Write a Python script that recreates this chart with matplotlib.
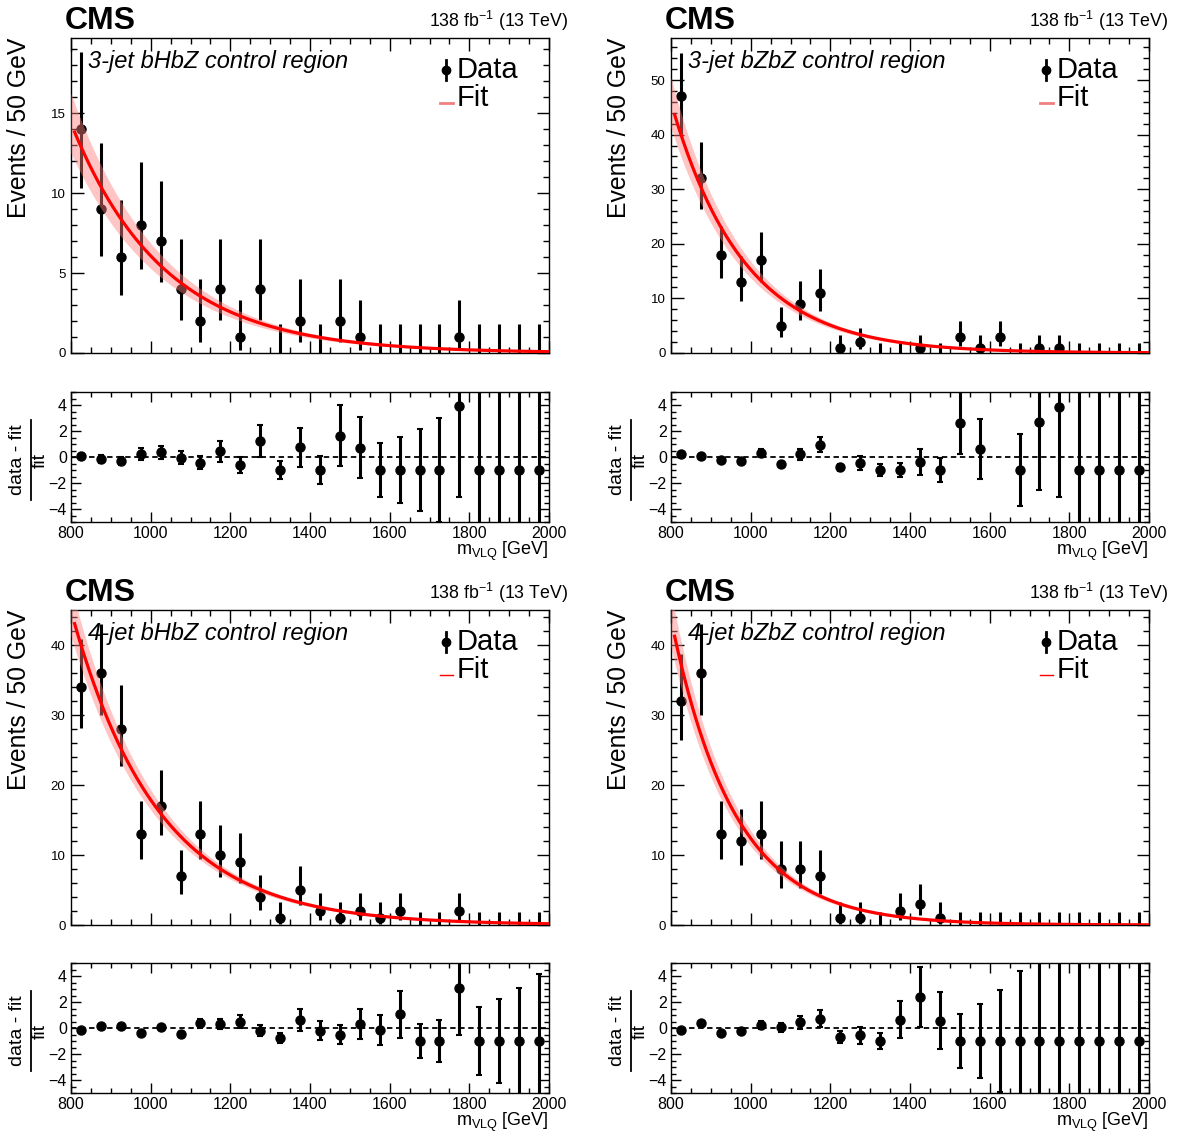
import numpy as np
import matplotlib
matplotlib.use("Agg")
import matplotlib.pyplot as plt
from matplotlib.ticker import MultipleLocator
from matplotlib.lines import Line2D

plt.rcParams.update({
    "font.family": ["Liberation Sans", "DejaVu Sans"],
    "mathtext.fontset": "custom",
    "mathtext.rm": "Liberation Sans",
    "mathtext.it": "Liberation Sans:italic",
    "mathtext.bf": "Liberation Sans:bold",
    "axes.linewidth": 1.0,
})

# ---------------- data ----------------
bin_edges = np.arange(800, 2001, 50)
bin_centers = bin_edges[:-1] + 25

labels = ["3-jet bHbZ control region", "3-jet bZbZ control region",
          "4-jet bHbZ control region", "4-jet bZbZ control region"]

counts_3j_bHbZ = [14, 9, 6, 8, 7, 4, 2, 4, 1, 4, 0, 2, 0, 2, 1, 0, 0, 0, 0, 1, 0, 0, 0, 0]
counts_3j_bZbZ = [47, 32, 18, 13, 17, 5, 9, 11, 1, 2, 0, 0, 1, 0, 3, 1, 3, 0, 1, 1, 0, 0, 0, 0]
counts_4j_bHbZ = [34, 36, 28, 13, 17, 7, 13, 10, 9, 4, 1, 5, 2, 1, 2, 1, 2, 0, 0, 2, 0, 0, 0, 0]
counts_4j_bZbZ = [32, 36, 13, 12, 13, 8, 8, 7, 1, 1, 0, 2, 3, 1, 0, 0, 0, 0, 0, 0, 0, 0, 0, 0]

ratio_3j_bHbZ = [0.1, -0.15, -0.3, 0.25, 0.35, -0.05, -0.45, 0.45, -0.6, 1.25, -1, 0.75,
                 -1, 1.65, 0.7, -1, -1, -1, -1, 3.95, -1, -1, -1, -1]
rerr_3j_bHbZ = [0.1, 0.3, 0.3, 0.45, 0.5, 0.5, 0.5, 0.8, 0.6, 1.25, 0.7, 1.5,
                1.05, 2.35, 2.35, 2.05, 2.55, 3.15, 4.0, 7.0, 8, 8, 8, 8]
ratio_3j_bZbZ = [0.2, 0.05, -0.25, -0.3, 0.3, -0.55, 0.2, 0.95, -0.8, -0.45, -1, -1,
                 -0.35, -1, 2.65, 0.6, np.nan, -1, 2.7, 3.85, -1, -1, -1, -1]
rerr_3j_bZbZ = [0.15, 0.1, 0.1, 0.1, 0.3, 0.1, 0.4, 0.6, 0.3, 0.55, 0.45, 0.55,
                1.0, 0.95, 2.45, 2.3, np.nan, 2.8, 5.25, 6.9, 8, 8, 8, 8]
ratio_4j_bHbZ = [-0.15, 0.15, 0.15, -0.35, 0.1, -0.45, 0.35, 0.3, 0.5, -0.2, -0.75, 0.6,
                 -0.2, -0.5, 0.3, -0.15, 1.05, -1, -1, 3.1, -1, -1, -1, -1]
rerr_4j_bHbZ = [0.15, 0.15, 0.12, 0.12, 0.15, 0.12, 0.35, 0.4, 0.5, 0.45, 0.38, 0.85,
                0.75, 0.75, 1.15, 1.18, 1.8, 1.3, 1.65, 3.6, 2.6, 3.25, 4.1, 5.15]
ratio_4j_bZbZ = [-0.15, 0.35, -0.35, -0.2, 0.25, 0.05, 0.45, 0.7, -0.7, -0.55, -1, 0.65,
                 2.4, 0.55, -1, -1, -1, -1, -1, -1, -1, -1, -1, -1]
rerr_4j_bZbZ = [0.15, 0.15, 0.12, 0.12, 0.3, 0.35, 0.5, 0.65, 0.45, 0.65, 0.62, 1.45,
                2.3, 2.2, 2.1, 2.85, 3.9, 5.35, 8, 8, 8, 8, 8, 8]

# exponential fit parameters: value at 825 GeV, slope (1/GeV), relative band
fit_norm = [12.9, 40.0, 40.0, 37.3]
fit_slope = [0.0043, 0.0055, 0.0046, 0.0063]
fit_rel_unc = [0.13, 0.10, 0.08, 0.09]

ymax_main = [19.7, 57.7, 45.0, 45.0]
ymajor = [5, 10, 10, 10]
yminor = [1, 2, 2, 2]

counts = [counts_3j_bHbZ, counts_3j_bZbZ, counts_4j_bHbZ, counts_4j_bZbZ]
ratios = [ratio_3j_bHbZ, ratio_3j_bZbZ, ratio_4j_bHbZ, ratio_4j_bZbZ]
rerrs = [rerr_3j_bHbZ, rerr_3j_bZbZ, rerr_4j_bHbZ, rerr_4j_bZbZ]


def garwood(n):
    n = np.asarray(n, float)
    nn = np.maximum(n, 1)
    lo = np.where(n > 0, n * (1 - 1 / (9 * nn) - 1 / (3 * np.sqrt(nn))) ** 3, 0.0)
    m = n + 1
    hi = m * (1 - 1 / (9 * m) + 1 / (3 * np.sqrt(m))) ** 3
    return n - lo, hi - n


W, H = 1184, 1136
fig = plt.figure(figsize=(W / 100, H / 100), dpi=100)

col_x = [71, 671]
ax_w = 478
main_top = [38, 610]
main_h = 315
rat_top = [392, 963]
rat_h = 130


def fx(px):
    return px / W


def fy(py):
    return 1 - py / H


band_col = "#ff7f7f"

for i in range(4):
    row, col = divmod(i, 2)
    x0 = col_x[col]
    axm = fig.add_axes([fx(x0), fy(main_top[row] + main_h), ax_w / W, main_h / H])
    axr = fig.add_axes([fx(x0), fy(rat_top[row] + rat_h), ax_w / W, rat_h / H])

    n = np.array(counts[i], float)
    elo, ehi = garwood(n)
    axm.errorbar(bin_centers, n, yerr=[elo, ehi], fmt="none", ecolor="black",
                 elinewidth=2.2, capsize=0, zorder=2)
    nz = n > 0
    axm.plot(bin_centers[nz], n[nz], "o", color="black", ms=6.5, zorder=2)

    xs = np.linspace(800, 2000, 400)
    f = fit_norm[i] * np.exp(-fit_slope[i] * (xs - 825))
    axm.fill_between(xs, f * (1 - fit_rel_unc[i]), f * (1 + fit_rel_unc[i]),
                     color=band_col, alpha=0.45, lw=0, zorder=3)
    xl = xs[xs >= 808]
    axm.plot(xl, fit_norm[i] * np.exp(-fit_slope[i] * (xl - 825)), color="red", lw=2.3, zorder=4)

    axm.set_xlim(800, 2000)
    axm.set_ylim(0, ymax_main[i])
    axm.xaxis.set_major_locator(MultipleLocator(200))
    axm.xaxis.set_minor_locator(MultipleLocator(50))
    axm.yaxis.set_major_locator(MultipleLocator(ymajor[i]))
    axm.yaxis.set_minor_locator(MultipleLocator(yminor[i]))
    axm.tick_params(which="both", direction="in", top=True, right=True)
    axm.tick_params(which="major", length=9, width=1)
    axm.tick_params(which="minor", length=4.5, width=1)
    axm.tick_params(axis="x", labelbottom=False)
    axm.tick_params(axis="y", labelsize=9.5, pad=4)
    axm.set_ylabel("Events / 50 GeV", fontsize=17.8, loc="top")
    axm.yaxis.set_label_coords(-0.084, 1.0)

    axm.text(0.036, 0.924, labels[i], transform=axm.transAxes, fontsize=17,
             style="italic", va="center", ha="left", zorder=6)

    # legend (manual)
    axm.plot([0.785, 0.785], [0.866, 0.930], transform=axm.transAxes, color="black", lw=2, clip_on=False, zorder=6)
    axm.plot([0.785], [0.898], "o", transform=axm.transAxes, color="black", ms=6, clip_on=False, zorder=6)
    axm.text(0.806, 0.898, "Data", transform=axm.transAxes, fontsize=21, va="center", ha="left", zorder=6)
    if row == 0:
        axm.plot([0.772, 0.799], [0.795, 0.795], transform=axm.transAxes, color="#f08080", lw=2, zorder=6)
    else:
        axm.plot([0.772, 0.799], [0.795, 0.795], transform=axm.transAxes, color="red", lw=1, zorder=6)
    axm.text(0.806, 0.809, "Fit", transform=axm.transAxes, fontsize=21, va="center", ha="left", zorder=6)

    # CMS and lumi
    fig.text(fx(x0 - 6), fy(main_top[row] - 9), "CMS", fontsize=23, fontweight="bold",
             ha="left", va="baseline")
    fig.text(fx(x0 + ax_w + 19), fy(main_top[row] - 11), r"138 fb$^{-1}$ (13 TeV)", fontsize=12.8,
             ha="right", va="baseline")

    # ratio
    r = np.array(ratios[i], float)
    re = np.array(rerrs[i], float)
    axr.axhline(0, color="black", ls=(0, (3, 2)), lw=1.3, zorder=1)
    axr.errorbar(bin_centers, r, yerr=re, fmt="o", color="black", ms=6.5, elinewidth=2.2,
                 capsize=2, capthick=1.5, zorder=2)
    axr.set_xlim(800, 2000)
    axr.set_ylim(-5, 5)
    axr.xaxis.set_major_locator(MultipleLocator(200))
    axr.xaxis.set_minor_locator(MultipleLocator(50))
    axr.yaxis.set_major_locator(MultipleLocator(2))
    axr.yaxis.set_minor_locator(MultipleLocator(0.5))
    axr.tick_params(which="both", direction="in", top=True, right=True)
    axr.tick_params(which="major", length=7, width=1)
    axr.tick_params(which="minor", length=3.5, width=1)
    axr.tick_params(axis="both", labelsize=11.5, pad=3)
    axr.set_xlabel(r"m$_{\mathrm{VLQ}}$ [GeV]", fontsize=13, loc="right")
    axr.xaxis.set_label_coords(1.0, -0.14)

    # ratio y label drawn as a fraction: (data - fit) / fit
    yc = rat_top[row] + rat_h / 2 + 3
    fig.text(fx(x0 - 53), fy(yc), "data - fit", rotation=90, fontsize=14,
             ha="center", va="center")
    fig.add_artist(Line2D([fx(x0 - 40), fx(x0 - 40)], [fy(yc - 40), fy(yc + 40)],
                          color="black", lw=1.3, transform=fig.transFigure))
    fig.text(fx(x0 - 31), fy(yc), "fit", rotation=90, fontsize=14,
             ha="center", va="center")

fig.savefig("out.png", dpi=100)
